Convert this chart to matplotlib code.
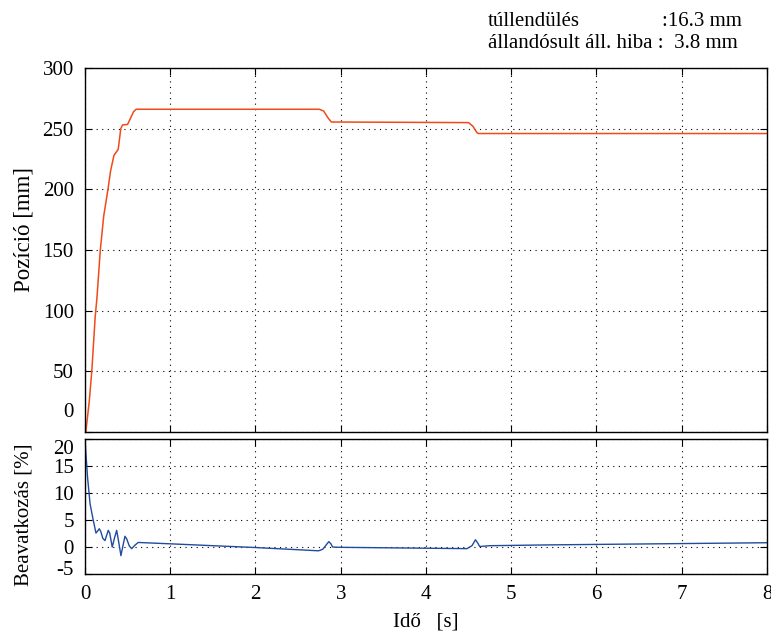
import matplotlib
matplotlib.use('Agg')
import matplotlib.pyplot as plt
import matplotlib.transforms as mtransforms

plt.rcParams['font.family'] = ['Liberation Serif', 'DejaVu Serif']
plt.rcParams['font.size'] = 15

# position (top panel)
t_pos = [0.0, 0.01, 0.05, 0.08, 0.12, 0.14, 0.18, 0.22, 0.27, 0.30, 0.34, 0.36, 0.39,
         0.42, 0.44, 0.50, 0.53, 0.57, 0.60, 2.75, 2.80, 2.85, 2.89, 4.50, 4.55,
         4.60, 4.62, 8.0]
pos = [0, 0, 25, 50, 95, 110, 150, 178, 200, 215, 228, 230, 233,
       250, 253, 253.5, 258, 264, 266, 266, 264.5, 259, 255.5, 255, 252,
       246.5, 246, 246]

# control effort (bottom panel)
t_u = [0.0, 0.03, 0.06, 0.097, 0.129, 0.15, 0.168, 0.185, 0.21, 0.235, 0.255, 0.273,
       0.29, 0.32, 0.345, 0.372, 0.395, 0.422, 0.445, 0.469, 0.49, 0.52, 0.548, 0.59,
       0.625, 0.997, 1.5, 1.97, 2.5, 2.74, 2.79, 2.83, 2.86, 2.885, 2.905, 2.99, 3.89,
       4.48, 4.54, 4.58, 4.605, 4.63, 4.75, 5.45, 8.0]
u = [20, 13, 8, 5, 2.6, 3.0, 3.4, 2.9, 1.6, 1.2, 2.2, 3.1,
     2.6, 0.0, 1.6, 3.1, 1.0, -1.6, 0.2, 2.0, 1.5, 0.2, -0.3, 0.4,
     0.85, 0.6, 0.25, -0.07, -0.5, -0.7, -0.4, 0.4, 1.0, 0.6, 0.0, -0.05, -0.2,
     -0.3, 0.25, 1.35, 0.8, 0.1, 0.25, 0.4, 0.8]

pos_ticks = [0, 50, 100, 150, 200, 250, 300]
u_ticks = [-5, 0, 5, 10, 15, 20]
t_ticks = [0, 1, 2, 3, 4, 5, 6, 7, 8]

fig = plt.figure(figsize=(7.71, 6.35), dpi=100)
ax1 = fig.add_axes([0.1102, 0.3197, 0.8846, 0.5732])
ax2 = fig.add_axes([0.1102, 0.0961, 0.8846, 0.2121])

for ax in (ax1, ax2):
    ax.tick_params(direction='in', top=True, right=True, length=5, pad=8, labelsize=15)
    ax.grid(True, linestyle=(0, (1, 4)), color='black', linewidth=0.8)
    for s in ax.spines.values():
        s.set_linewidth(1.0)
    ax.set_xlim(0, 8)
    ax.set_xticks(t_ticks)

ax1.plot(t_pos, pos, color='#f04a1a', linewidth=1.1)
ax1.set_ylim(0, 300)
ax1.set_yticks(pos_ticks)
ax1.set_yticklabels([''] + [str(v) for v in pos_ticks[1:]])
ax1.set_xticklabels([])
ax1.set_ylabel('Pozíció [mm]', fontsize=16.5)
ax1.yaxis.set_label_coords(-0.074, 0.555)

ax2.plot(t_u, u, color='#1f4c9c', linewidth=1.0)
ax2.set_ylim(-5, 20)
ax2.set_yticks(u_ticks)
ax2.set_yticklabels(['', '0', '5', '10', '15', ''])
ax2.set_xticklabels([str(v) for v in t_ticks])
ax2.set_ylabel('Beavatkozás [%]', fontsize=15)
ax2.yaxis.set_label_coords(-0.076, 0.44)
ax2.set_xlabel('Idő   [s]', fontsize=15, labelpad=6)

# shifted end labels
def shifted_label(ax, y, txt, dy_px):
    tr = ax.get_yaxis_transform() + mtransforms.ScaledTranslation(-11 / 100, dy_px / 100, fig.dpi_scale_trans)
    ax.text(0, y, txt, transform=tr, ha='right', va='center', fontsize=15)

shifted_label(ax1, 0, '0', 19)
shifted_label(ax2, 20, '20', -10)
shifted_label(ax2, -5, '-5', 3)

fig.text(488 / 771, 1 - 22 / 635, 'túllendülés', fontsize=15, va='center', ha='left')
fig.text(662 / 771, 1 - 22 / 635, ':16.3 mm', fontsize=15, va='center', ha='left')
fig.text(488 / 771, 1 - 44 / 635, 'állandósult áll. hiba :  3.8 mm', fontsize=15, va='center', ha='left')

fig.savefig('out.png', dpi=100)
